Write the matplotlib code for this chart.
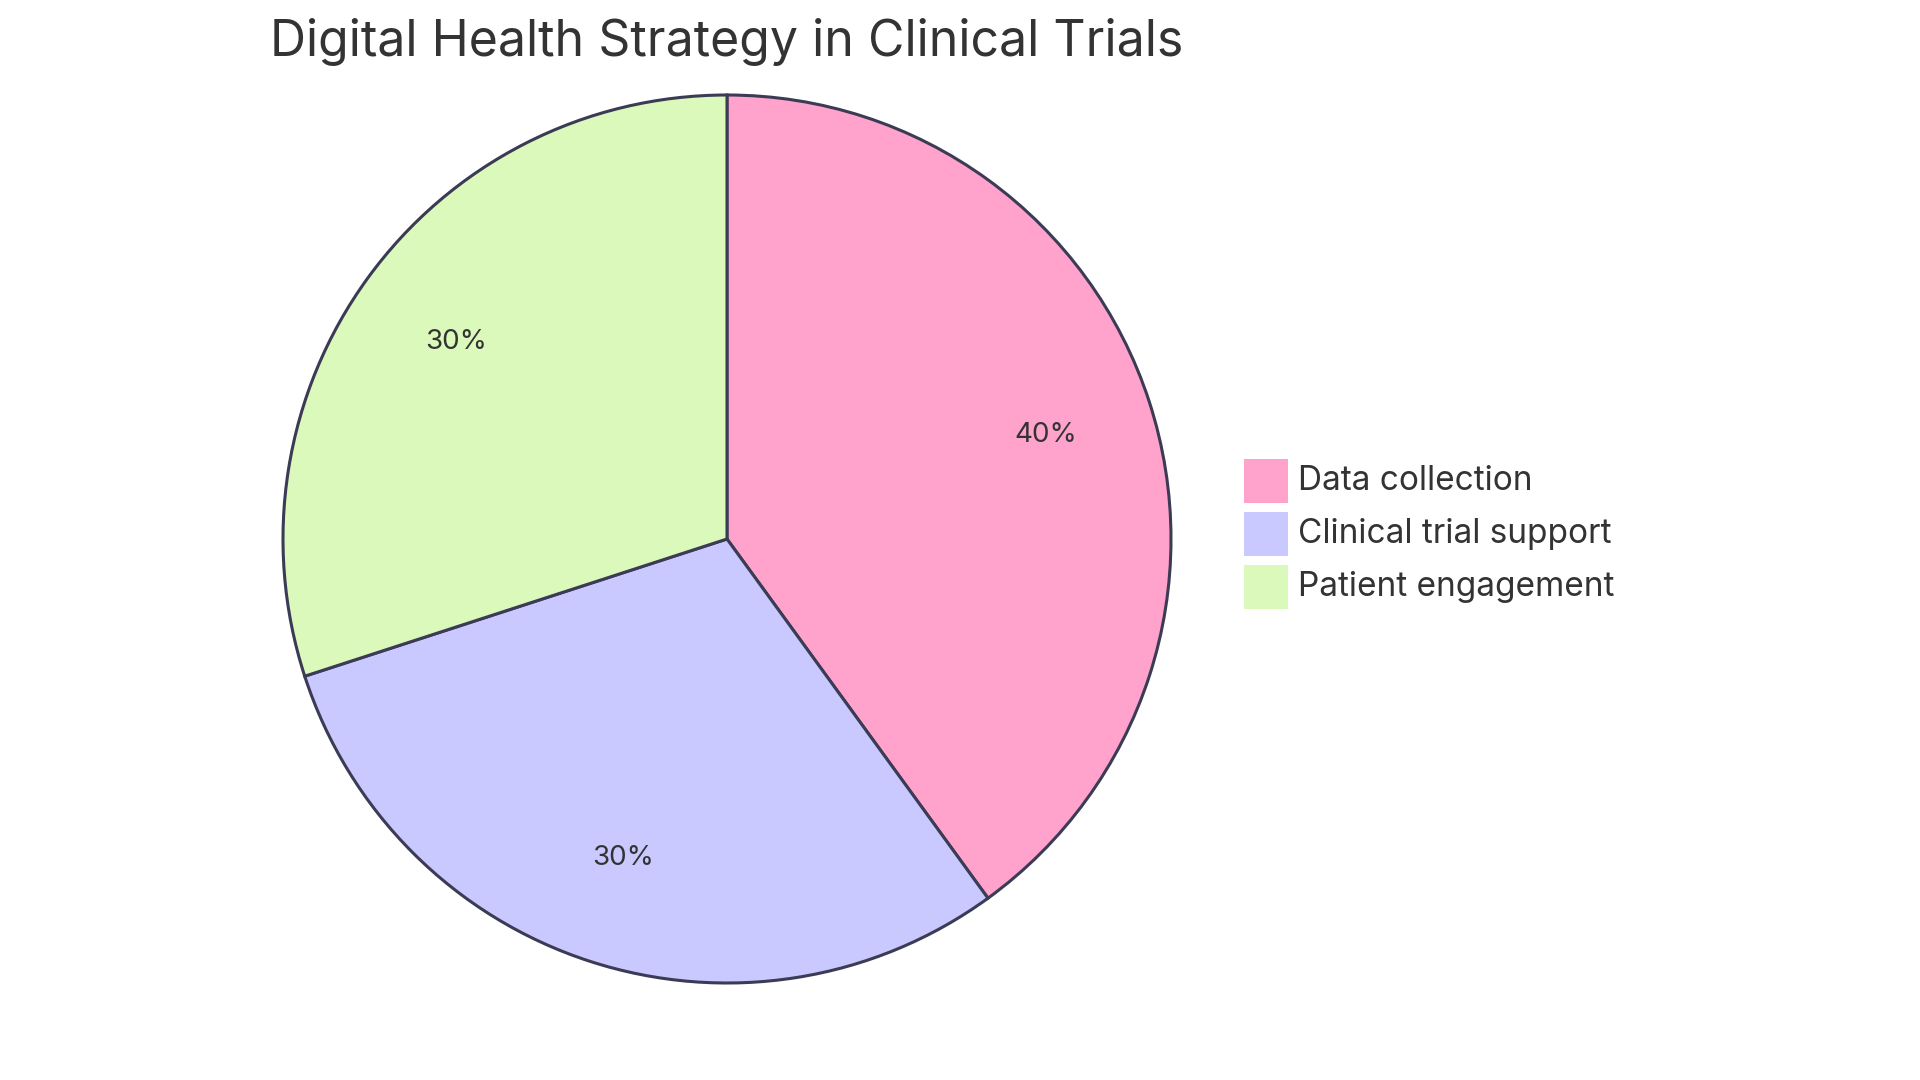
import matplotlib.pyplot as plt

labels = ["Data collection", "Clinical trial support", "Patient engagement"]
values = [40, 30, 30]
colors = ["#FFA3CC", "#C9C9FF", "#DBF9BA"]

plt.rcParams['font.family'] = ['Inter', 'DejaVu Sans']

fig = plt.figure(figsize=(19.2, 10.8), dpi=100)
ax = fig.add_axes([0, 0, 1, 1])
ax.set_xlim(0, 1920)
ax.set_ylim(1080, 0)
ax.set_aspect('equal')
ax.axis('off')

wedges, texts = ax.pie(values, colors=colors, startangle=90, counterclock=False,
                       center=(727, 539), radius=444, frame=True,
                       wedgeprops=dict(edgecolor='#3B3B55', linewidth=2.2))
ax.set_xlim(0, 1920)
ax.set_ylim(0, 1080)
ax.axis('off')
# pie uses y-up; keep axes y-up and convert centre accordingly
for w in wedges:
    w.set_center((727, 1080 - 539))

import numpy as np
start = 90
for v in values:
    mid = np.deg2rad(start - v * 3.6 / 2)
    start -= v * 3.6
    ax.text(727 + 0.755 * 444 * np.cos(mid), 541 + 0.755 * 444 * np.sin(mid),
            f"{v}%", ha='center', va='center', fontsize=20, color='#333333')

ax.text(727, 1080 - 42, "Digital Health Strategy in Clinical Trials",
        ha='center', va='center', fontsize=36, color='#333333')

for i, (lab, c) in enumerate(zip(labels, colors)):
    y = 1080 - (481 + i * 53)
    ax.add_patch(plt.Rectangle((1244, y - 22), 44, 44, facecolor=c, edgecolor='none'))
    ax.text(1298, y, lab, ha='left', va='center', fontsize=24, color='#333333')

fig.savefig('out.png', dpi=100, facecolor='white')
